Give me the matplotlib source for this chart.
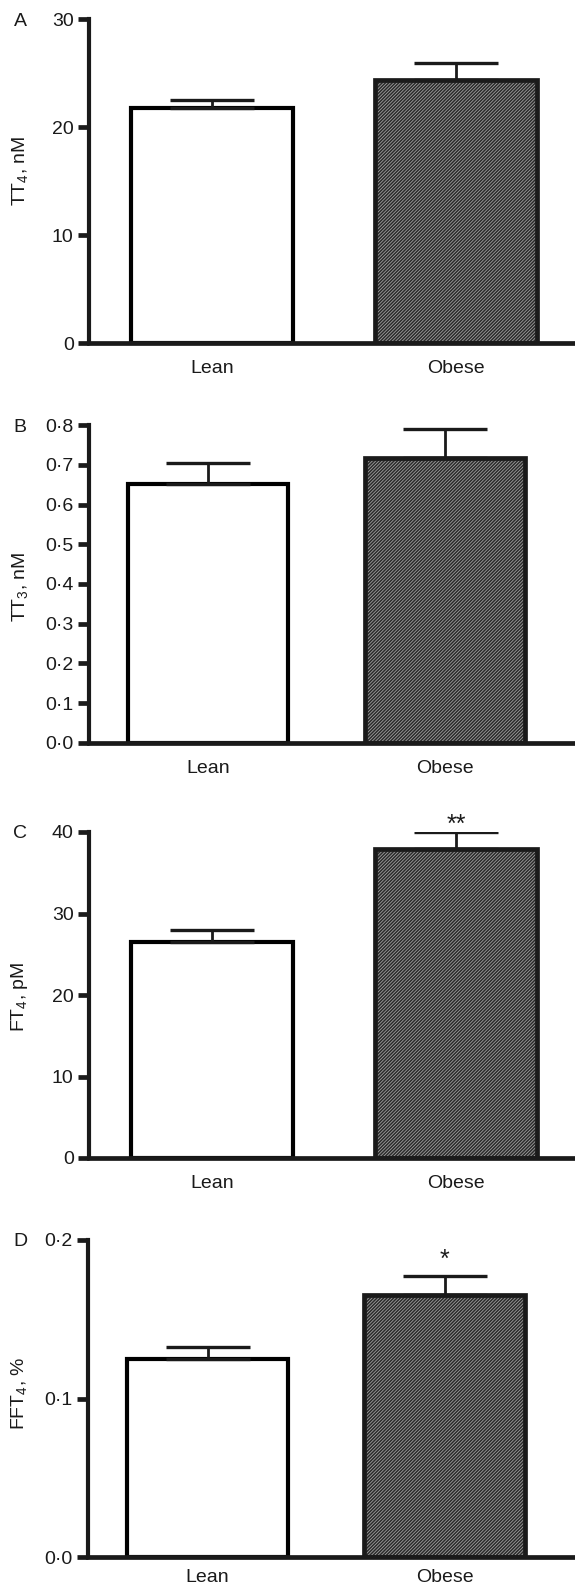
import matplotlib
matplotlib.use("Agg")
import matplotlib.pyplot as plt
from matplotlib.ticker import FuncFormatter

plt.rcParams['font.family'] = ['Liberation Sans', 'DejaVu Sans']
plt.rcParams['mathtext.fontset'] = 'custom'
plt.rcParams['mathtext.rm'] = 'Liberation Sans'
plt.rcParams['mathtext.it'] = 'Liberation Sans:italic'
plt.rcParams['hatch.linewidth'] = 0.6

# ---- data ----
groups = ["Lean", "Obese"]
panel_letters = ["A", "B", "C", "D"]
ylabels = ["TT$_4$, nM", "TT$_3$, nM", "FT$_4$, pM", "FFT$_4$, %"]

tt4_mean = [21.75, 24.35]
tt4_sem = [0.75, 1.55]
tt3_mean = [0.652, 0.718]
tt3_sem = [0.053, 0.072]
ft4_mean = [26.5, 37.9]
ft4_sem = [1.45, 2.1]
fft4_mean = [0.125, 0.165]
fft4_sem = [0.0075, 0.0125]

yticks_A = [0, 10, 20, 30]
yticks_B = [0.0, 0.1, 0.2, 0.3, 0.4, 0.5, 0.6, 0.7, 0.8]
yticks_C = [0, 10, 20, 30, 40]
yticks_D = [0.0, 0.1, 0.2]

stars_C = ["", "**"]
stars_D = ["", "*"]

W, H = 575, 1587
fig = plt.figure(figsize=(W / 100, H / 100), dpi=100)

# pixel layout: (axis_x, top_px, bottom_px, xlim_left, xlim_right, bar_width)
layouts = [
    (89, 19, 343, -0.503, 1.485, 0.663),
    (89, 425, 743, -0.505, 1.55, 0.677),
    (89, 832, 1158, -0.503, 1.485, 0.663),
    (88, 1240, 1557, -0.505, 1.55, 0.677),
]
means = [tt4_mean, tt3_mean, ft4_mean, fft4_mean]
sems = [tt4_sem, tt3_sem, ft4_sem, fft4_sem]
yticks = [yticks_A, yticks_B, yticks_C, yticks_D]
stars = [None, None, stars_C, stars_D]
star_off = [0, 0, 0, 6]
dotfmt = [False, True, False, True]
label_y = [0.53, 0.49, 0.495, 0.515]
xpads = [12, 12, 12, 9]

for i in range(4):
    axx, top, bot, xl, xr, bw = layouts[i]
    ax = fig.add_axes([axx / W, 1 - bot / H, (W - axx) / W, (bot - top) / H])
    x = list(range(len(groups)))
    m = means[i]
    s = sems[i]
    # white bar
    ax.bar(x[0], m[0], width=bw, facecolor='white', edgecolor='black',
           linewidth=3.0, zorder=2)
    # hatched bar (texture)
    ax.bar(x[1], m[1], width=bw, facecolor='#2a2a2a', edgecolor='#a0a0a0',
           hatch='//////////', linewidth=0, zorder=2)
    ax.bar(x[1], m[1], width=bw, facecolor='none', edgecolor='#1a1a1a',
           linewidth=3.4, zorder=3)
    ax.errorbar(x, m, yerr=[[0, 0], s], fmt='none', ecolor='#1a1a1a',
                elinewidth=2.0, capsize=30, capthick=2.4, zorder=4)
    ax.set_xlim(xl, xr)
    ax.set_ylim(yticks[i][0], yticks[i][-1])
    ax.set_yticks(yticks[i])
    if dotfmt[i]:
        ax.yaxis.set_major_formatter(FuncFormatter(lambda v, p: f"{v:.1f}".replace('.', '\u00b7')))
    else:
        ax.yaxis.set_major_formatter(FuncFormatter(lambda v, p: f"{v:.0f}"))
    ax.set_xticks(x)
    ax.set_xticklabels(groups)
    for sp in ['top', 'right']:
        ax.spines[sp].set_visible(False)
    ax.spines['left'].set_linewidth(3.0)
    ax.spines['bottom'].set_linewidth(3.4)
    ax.spines['left'].set_color('#1a1a1a')
    ax.spines['bottom'].set_color('#1a1a1a')
    ax.tick_params(axis='y', direction='out', length=8, width=3.4,
                   color='#1a1a1a', labelsize=14, pad=3, labelcolor='#1a1a1a')
    ax.tick_params(axis='x', length=0, labelsize=14, pad=xpads[i], labelcolor='#1a1a1a')
    ax.set_ylabel(ylabels[i], fontsize=14, color='#1a1a1a', va='center')
    ax.yaxis.set_label_coords(-0.142, label_y[i])
    ax.patch.set_visible(False)
    if stars[i]:
        for xi, st, mi, si in zip(x, stars[i], m, s):
            if st:
                ax.annotate(st, xy=(xi, mi + si), xytext=(0, star_off[i]),
                            textcoords='offset points', ha='center',
                            va='baseline', fontsize=18, color='#1a1a1a')
    fig.text(20 / W, 1 - (top + 2) / H, panel_letters[i], ha='center',
             va='center', fontsize=14, color='#1a1a1a')

fig.savefig("out.png", dpi=100)
